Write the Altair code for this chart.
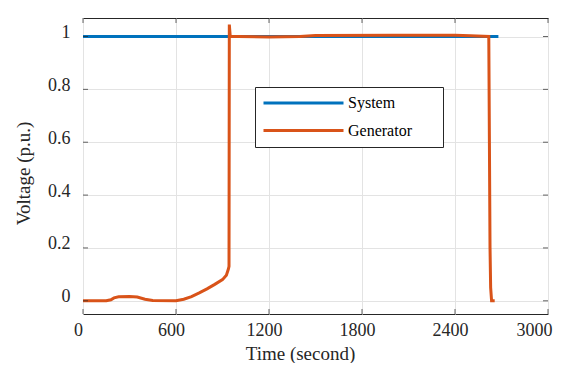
import altair as alt
import pandas as pd

# Data
sys_t = [0, 500, 1000, 1500, 2000, 2500, 2680]
sys_v = [1.0, 1.0, 1.0, 1.0, 1.0, 1.0, 1.0]

gen_t = [0, 150, 180, 200, 230, 300, 350, 400, 450, 600, 650, 700, 750, 800, 850,
         900, 925, 938, 942, 944, 950, 1000, 1200, 1400, 1500, 2000, 2400, 2500,
         2618, 2622, 2626, 2630, 2636, 2656]
gen_v = [0.0, 0.0, 0.004, 0.011, 0.015, 0.016, 0.014, 0.006, 0.001, 0.0, 0.006, 0.016,
         0.03, 0.045, 0.062, 0.08, 0.097, 0.12, 0.13, 1.045, 1.0, 1.0, 0.998, 1.0,
         1.004, 1.005, 1.005, 1.003, 1.0, 0.6, 0.2, 0.05, 0.0, 0.0]

x_ticks = [0, 600, 1200, 1800, 2400, 3000]
y_ticks = [0, 0.2, 0.4, 0.6, 0.8, 1]

series = ["System", "Generator"]
colors = ["#0072BD", "#D95319"]

FONT = "Liberation Serif"
W, H = 465, 296
PAD = "\u2800\u2800"

df_sys = pd.DataFrame({"t": sys_t, "v": sys_v, "s": "System", "i": range(len(sys_t))})
df_gen = pd.DataFrame({"t": gen_t, "v": gen_v, "s": "Generator", "i": range(len(gen_t))})
df_xt = pd.DataFrame({"t": x_ticks})
df_yt = pd.DataFrame({"v": y_ticks})

xscale = alt.Scale(domain=[0, 3000], nice=False, zero=False)
yscale = alt.Scale(domain=[-0.05, 1.07], nice=False, zero=False)

last = "datum.value == 3000"
xaxis = alt.Axis(values=x_ticks, title="Time (second)", grid=True, domain=False,
                 ticks=False, labelPadding=7,
                 labelOffset={"condition": {"test": last, "value": 4}, "value": -5},
                 labelAlign={"condition": {"test": last, "value": "right"}, "value": "center"},
                 labelFontSize=18,
                 titleFontSize=19, titleFontWeight="normal",
                 titleX=217, titleY=30, titleBaseline="top",
                 labelFlush=False, format="d")
yaxis = alt.Axis(values=y_ticks, title="Voltage (p.u.)", grid=True, domain=False,
                 ticks=False, labelPadding=13, labelOffset=-4, labelFontSize=18,
                 titleFontSize=19, titleFontWeight="normal",
                 titleX=-50, titleY=155, titleBaseline="bottom", titleAngle=270,
                 labelFlush=False, format="~g")

color = alt.Color("s:N", scale=alt.Scale(domain=series, range=colors),
                  legend=alt.Legend(title=None,
                                    orient="none", legendX=172, legendY=69,
                                    symbolType="stroke", symbolSize=6400,
                                    symbolStrokeWidth=3, clipHeight=18,
                                    labelFontSize=16, labelFont=FONT,
                                    labelColor="#000000",
                                    labelExpr="datum.label + '" + PAD + "'",
                                    strokeColor="#262626", fillColor="white",
                                    padding=7, rowPadding=9.5, labelOffset=3))

sys_line = alt.Chart(df_sys).mark_line(strokeWidth=3).encode(
    x=alt.X("t:Q", scale=xscale, axis=xaxis),
    y=alt.Y("v:Q", scale=yscale, axis=yaxis),
    color=color,
    order="i:Q",
)
gen_line = alt.Chart(df_gen).mark_line(strokeWidth=3).encode(
    x=alt.X("t:Q", scale=xscale, axis=xaxis),
    y=alt.Y("v:Q", scale=yscale, axis=yaxis),
    color=color,
    order="i:Q",
)

tick_color = "#262626"
left_ticks = alt.Chart(df_yt).mark_tick(size=5, thickness=1, color=tick_color).encode(
    y=alt.Y("v:Q", scale=yscale), x=alt.value(2.5))
right_ticks = alt.Chart(df_yt).mark_tick(size=5, thickness=1, color=tick_color).encode(
    y=alt.Y("v:Q", scale=yscale), x=alt.value(W - 2.5))
bottom_ticks = alt.Chart(df_xt).mark_tick(size=5, thickness=1, color=tick_color).encode(
    x=alt.X("t:Q", scale=xscale), y=alt.value(H - 2.5))
top_ticks = alt.Chart(df_xt).mark_tick(size=5, thickness=1, color=tick_color).encode(
    x=alt.X("t:Q", scale=xscale), y=alt.value(2.5))

chart = alt.layer(sys_line, gen_line, left_ticks, right_ticks, bottom_ticks, top_ticks).properties(
    width=W, height=H,
    autosize=alt.AutoSizeParams(type="none"),
    padding={"left": 75, "top": 10, "right": 5, "bottom": 49},
).configure(
    font=FONT,
    background="white",
).configure_view(
    stroke="#262626", strokeWidth=1,
).configure_axis(
    labelFont=FONT, titleFont=FONT, labelColor="#262626", titleColor="#262626",
    gridColor="#e3e3e3", gridWidth=1,
)

chart.save("out.html", embed_options={"renderer": "svg", "actions": False})
